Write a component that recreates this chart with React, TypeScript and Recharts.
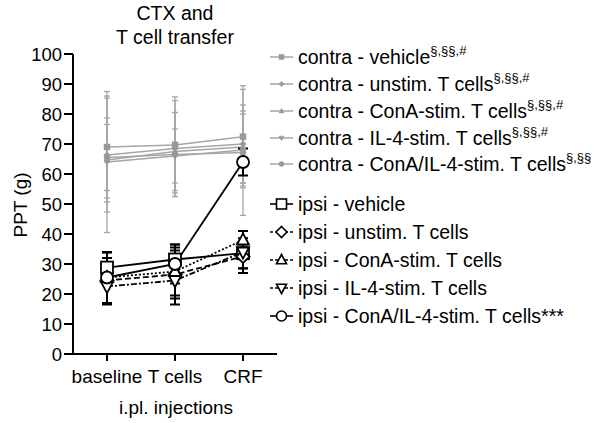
import { CartesianGrid, ErrorBar, Line, LineChart, XAxis, YAxis } from 'recharts'

// valores (PPT en g, media +/- SEM)
const categories = ['baseline', 'T cells', 'CRF']
const yTicks = [0, 10, 20, 30, 40, 50, 60, 70, 80, 90, 100]

const contraVehicle = [69, 69.7, 72.4]
const contraVehicleErr = [17, 16, 17]
const contraUnstim = [66.3, 68.5, 70]
const contraUnstimErr = [19, 16, 13]
const contraConA = [64.7, 67.5, 69]
const contraConAErr = [14, 13, 12]
const contraIL4 = [64, 66, 68]
const contraIL4Err = [23.5, 9, 12]
const contraConAIL4 = [65.5, 66.5, 67.2]
const contraConAIL4Err = [11, 14, 21]

const ipsiVehicle = [28.8, 31.5, 33.6]
const ipsiVehicleErr = [5, 5, 5]
const ipsiUnstim = [24.5, 26.5, 32.5]
const ipsiUnstimErr = [7.5, 8, 4]
const ipsiConA = [25.5, 27.5, 38]
const ipsiConAErr = [8.5, 8, 3]
const ipsiIL4 = [22.5, 24.5, 34]
const ipsiIL4Err = [6, 8, 7]
const ipsiConAIL4 = [25.5, 30, 64]
const ipsiConAIL4Err = [8.5, 6.5, 4.5]

const FONT = '"Liberation Sans", Arial, sans-serif'
const GREY = '#a6a6a6'

type Shape = 'square' | 'diamond' | 'triangle' | 'triangleDown' | 'circle'

const series = [
  { key: 'cVeh', label: 'contra - vehicle', sup: '§,§§,#', values: contraVehicle, errors: contraVehicleErr, ipsi: false, shape: 'square' as Shape, dash: undefined },
  { key: 'cUn', label: 'contra - unstim. T cells', sup: '§,§§,#', values: contraUnstim, errors: contraUnstimErr, ipsi: false, shape: 'diamond' as Shape, dash: undefined },
  { key: 'cCon', label: 'contra - ConA-stim. T cells', sup: '§,§§,#', values: contraConA, errors: contraConAErr, ipsi: false, shape: 'triangle' as Shape, dash: undefined },
  { key: 'cIL', label: 'contra - IL-4-stim. T cells', sup: '§,§§,#', values: contraIL4, errors: contraIL4Err, ipsi: false, shape: 'triangleDown' as Shape, dash: undefined },
  { key: 'cCI', label: 'contra - ConA/IL-4-stim. T cells', sup: '§,§§', values: contraConAIL4, errors: contraConAIL4Err, ipsi: false, shape: 'circle' as Shape, dash: undefined },
  { key: 'iVeh', label: 'ipsi - vehicle', sup: '', values: ipsiVehicle, errors: ipsiVehicleErr, ipsi: true, shape: 'square' as Shape, dash: undefined },
  { key: 'iUn', label: 'ipsi - unstim. T cells', sup: '', values: ipsiUnstim, errors: ipsiUnstimErr, ipsi: true, shape: 'diamond' as Shape, dash: '6 3' },
  { key: 'iCon', label: 'ipsi - ConA-stim. T cells', sup: '', values: ipsiConA, errors: ipsiConAErr, ipsi: true, shape: 'triangle' as Shape, dash: '2 2' },
  { key: 'iIL', label: 'ipsi - IL-4-stim. T cells', sup: '', values: ipsiIL4, errors: ipsiIL4Err, ipsi: true, shape: 'triangleDown' as Shape, dash: '6 2 2 2' },
  { key: 'iCI', label: 'ipsi - ConA/IL-4-stim. T cells***', sup: '', values: ipsiConAIL4, errors: ipsiConAIL4Err, ipsi: true, shape: 'circle' as Shape, dash: undefined },
]

const data = categories.map((name, i) => {
  const row: Record<string, string | number> = { name }
  series.forEach(s => {
    row[s.key] = s.values[i]
    row[s.key + 'Err'] = s.errors[i]
  })
  return row
})

function Marker ({ shape, cx, cy, size, fill, stroke, sw }: { shape: Shape, cx: number, cy: number, size: number, fill: string, stroke: string, sw: number }) {
  const h = size / 2
  const common = { fill, stroke, strokeWidth: sw }
  if (shape === 'square') return <rect x={cx - h} y={cy - h} width={size} height={size} {...common} />
  if (shape === 'diamond') return <polygon points={`${cx},${cy - h * 1.1} ${cx + h * 1.1},${cy} ${cx},${cy + h * 1.1} ${cx - h * 1.1},${cy}`} {...common} />
  if (shape === 'triangle') return <polygon points={`${cx},${cy - h * 1.1} ${cx + h},${cy + h * 0.75} ${cx - h},${cy + h * 0.75}`} {...common} />
  if (shape === 'triangleDown') return <polygon points={`${cx},${cy + h * 1.1} ${cx + h},${cy - h * 0.75} ${cx - h},${cy - h * 0.75}`} {...common} />
  return <circle cx={cx} cy={cy} r={h} {...common} />
}

const contraRows = [57, 84, 111, 138, 164]
const ipsiRows = [204, 232, 260, 288, 316]

function LegendOverlay () {
  return (
    <svg width={600} height={423} style={{ position: 'absolute', left: 0, top: 0, pointerEvents: 'none' }} fontFamily={FONT}>
      <text x={175} y={20} textAnchor='middle' fontSize={19.5}>CTX and</text>
      <text x={175} y={44} textAnchor='middle' fontSize={19.5}>T cell transfer</text>
      <text x={176} y={414} textAnchor='middle' fontSize={19}>i.pl. injections</text>
      <text transform='translate(27,205) rotate(-90)' textAnchor='middle' fontSize={19}>PPT (g)</text>
      {series.map((s, i) => {
        const y = s.ipsi ? ipsiRows[i - 5] : contraRows[i]
        const color = s.ipsi ? '#000' : GREY
        return (
          <g key={s.key}>
            <line x1={270} x2={293} y1={y} y2={y} stroke={color} strokeWidth={s.ipsi ? 1.6 : 1.5} strokeDasharray={s.dash ? '3 2' : undefined} />
            <Marker shape={s.shape} cx={281.5} cy={y} size={s.ipsi ? 10 : 5} fill={s.ipsi ? '#fff' : '#999'} stroke={s.ipsi ? '#000' : '#999'} sw={s.ipsi ? 1.6 : 0.5} />
            <text x={298} y={y + 7} fontSize={19.5}>
              {s.label}
              {s.sup && <tspan fontSize={13} dy={-9}>{s.sup}</tspan>}
            </text>
          </g>
        )
      })}
    </svg>
  )
}

export default function App () {
  return (
    <div style={{ position: 'absolute', left: 0, top: 0, width: 600, height: 423, background: '#fff' }}>
      <LineChart width={600} height={423} data={data} margin={{ top: 54, right: 323, left: 13, bottom: 29 }}>
        <CartesianGrid stroke='none' />
        <XAxis
          dataKey='name'
          padding={{ left: 34, right: 34 }}
          height={40}
          tickSize={7}
          tickMargin={9}
          axisLine={{ stroke: '#000', strokeWidth: 2 }}
          tickLine={{ stroke: '#000', strokeWidth: 2 }}
          tick={{ fontSize: 19, fill: '#000', fontFamily: FONT }}
          interval={0}
        />
        <YAxis
          width={60}
          domain={[0, 100]}
          ticks={yTicks}
          tickSize={9}
          tickMargin={2}
          axisLine={{ stroke: '#000', strokeWidth: 2 }}
          tickLine={{ stroke: '#000', strokeWidth: 2 }}
          tick={{ fontSize: 18.5, fill: '#000', fontFamily: FONT }}
        />
        {series.map(s => (
          <Line
            key={s.key}
            dataKey={s.key}
            isAnimationActive={false}
            stroke={s.ipsi ? '#000' : GREY}
            strokeWidth={s.ipsi ? 1.8 : 1.5}
            strokeDasharray={s.dash}
            dot={(p: any) => (
              <Marker
                key={`${s.key}-${p.index}`}
                shape={s.shape}
                cx={p.cx}
                cy={p.cy}
                size={s.ipsi ? 12 : 6}
                fill={s.ipsi ? '#fff' : '#999'}
                stroke={s.ipsi ? '#000' : '#999'}
                sw={s.ipsi ? 1.8 : 0.5}
              />
            )}
            activeDot={false}
          >
            <ErrorBar dataKey={s.key + 'Err'} direction='y' width={s.ipsi ? 5 : 3} stroke={s.ipsi ? '#000' : GREY} strokeWidth={s.ipsi ? 2 : 1.3} />
          </Line>
        ))}
      </LineChart>
      <LegendOverlay />
    </div>
  )
}
